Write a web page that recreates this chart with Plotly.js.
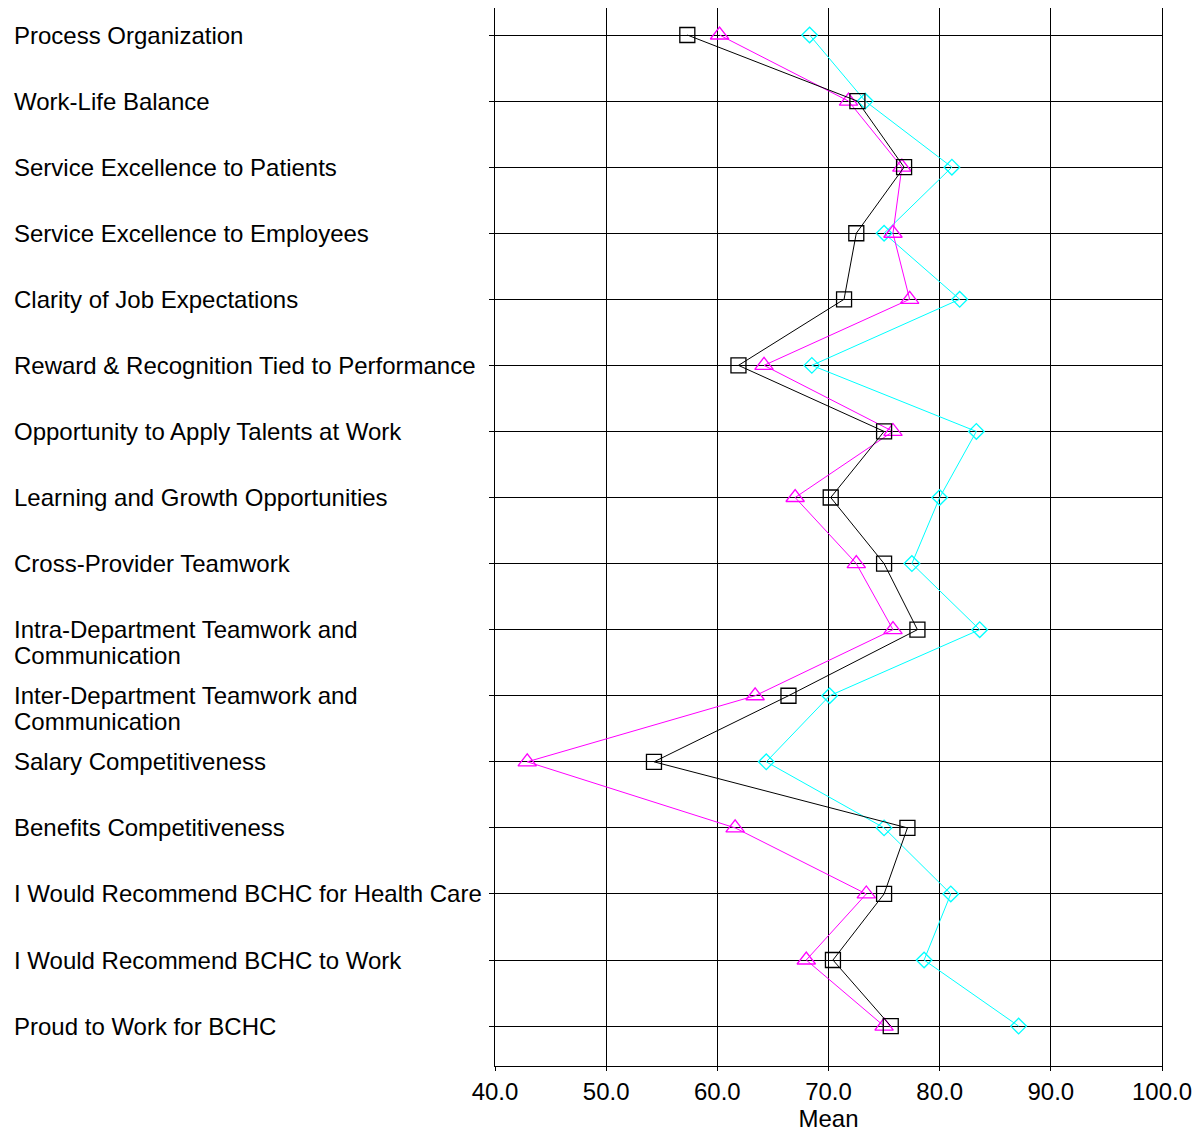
<!DOCTYPE html>
<html>
<head>
<meta charset="utf-8">
<script src="https://cdn.plot.ly/plotly-3.0.1.min.js"></script>
<style>html,body{margin:0;padding:0;background:#fff;}</style>
</head>
<body>
<div id="chart" style="width:1198px;height:1133px;"></div>
<script>
const categories = [
  "Process Organization",
  "Work-Life Balance",
  "Service Excellence to Patients",
  "Service Excellence to Employees",
  "Clarity of Job Expectations",
  "Reward & Recognition Tied to Performance",
  "Opportunity to Apply Talents at Work",
  "Learning and Growth Opportunities",
  "Cross-Provider Teamwork",
  "Intra-Department Teamwork and<br>Communication",
  "Inter-Department Teamwork and<br>Communication",
  "Salary Competitiveness",
  "Benefits Competitiveness",
  "I Would Recommend BCHC for Health Care",
  "I Would Recommend BCHC to Work",
  "Proud to Work for BCHC"
];
const blackSeries   = [57.3, 72.6, 76.8, 72.5, 71.4, 61.9, 75.0, 70.2, 75.0, 78.0, 66.4, 54.3, 77.1, 75.0, 70.4, 75.6];
const magentaSeries = [60.2, 71.8, 76.6, 75.8, 77.3, 64.2, 75.8, 67.0, 72.5, 75.8, 63.4, 42.9, 61.6, 73.4, 68.0, 75.0];
const cyanSeries    = [68.3, 73.3, 81.1, 75.0, 81.8, 68.5, 83.3, 80.0, 77.5, 83.6, 70.1, 64.4, 75.0, 81.0, 78.6, 87.1];
const xTicks = [40, 50, 60, 70, 80, 90, 100];

const traces = [
  {x: cyanSeries, y: categories, type: 'scatter', mode: 'lines+markers',
   line: {color: '#00ffff', width: 1},
   marker: {symbol: 'diamond-open', size: 12, color: '#00ffff', line: {width: 1.3}}},
  {x: magentaSeries, y: categories, type: 'scatter', mode: 'lines+markers',
   line: {color: '#ff00ff', width: 1},
   marker: {symbol: 'triangle-up-open', size: 16, color: '#ff00ff', line: {width: 1.3}}},
  {x: blackSeries, y: categories, type: 'scatter', mode: 'lines+markers',
   line: {color: '#000000', width: 1},
   marker: {symbol: 'square-open', size: 15, color: '#000000', line: {width: 1.3}}}
];

const annotations = [];
categories.forEach(c => {
  c.split('<br>').forEach((line, i) => {
    annotations.push({
      text: line, xref: 'paper', yref: 'y', x: -0.7241, y: c,
      xanchor: 'left', yanchor: 'middle', align: 'left', showarrow: false,
      yshift: -26 * i,
      font: {family: 'Liberation Sans, Arial, sans-serif', size: 24, color: '#000'}
    });
  });
});

const layout = {
  width: 1198, height: 1133,
  margin: {l: 495, r: 36, t: 8, b: 67},
  paper_bgcolor: '#fff', plot_bgcolor: '#fff',
  showlegend: false,
  font: {family: 'Liberation Sans, Arial, sans-serif', size: 23, color: '#000'},
  xaxis: {
    range: [40, 100], tickvals: xTicks, tickformat: '.1f',
    showgrid: true, gridcolor: '#000', gridwidth: 1,
    showline: true, linecolor: '#000', linewidth: 1,
    ticks: 'outside', ticklen: 4, tickcolor: '#000',
    zeroline: false,
    tickfont: {size: 24},
    title: {text: 'Mean', font: {size: 24}, standoff: 5}
  },
  yaxis: {
    type: 'category', categoryorder: 'array', categoryarray: categories,
    range: [15.604, -0.409],
    showgrid: true, gridcolor: '#000', gridwidth: 1,
    showline: true, mirror: true, linecolor: '#000', linewidth: 1,
    ticks: 'outside', ticklen: 5, tickcolor: '#000',
    showticklabels: false, zeroline: false
  },
  annotations: annotations
};

Plotly.newPlot('chart', traces, layout, {staticPlot: true, displayModeBar: false});
</script>
</body>
</html>
